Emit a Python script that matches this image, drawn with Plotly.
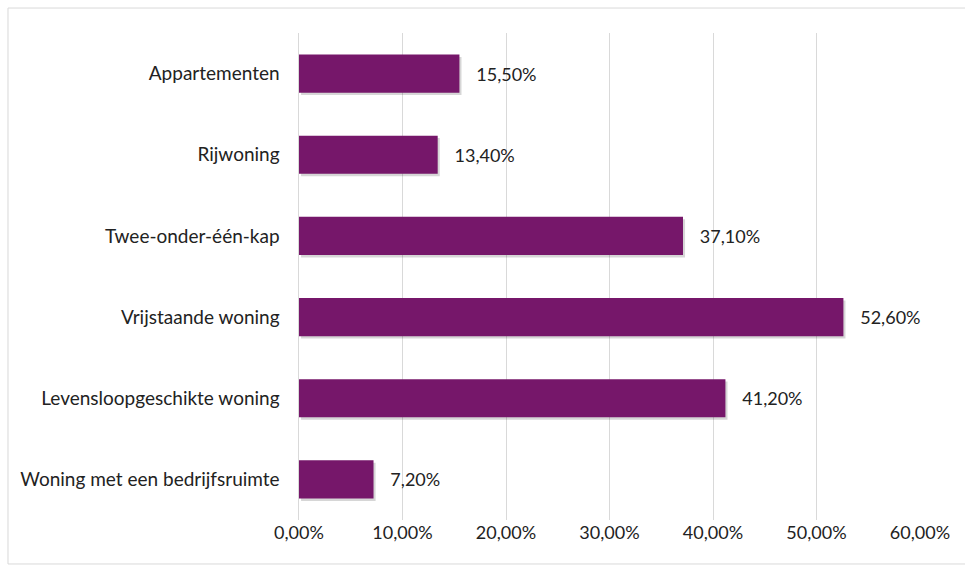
import plotly.graph_objects as go

# Woonwensen: voorkeur voor type woning
categories = [
    "Appartementen",
    "Rijwoning",
    "Twee-onder-één-kap",
    "Vrijstaande woning",
    "Levensloopgeschikte woning",
    "Woning met een bedrijfsruimte",
]
shares = [0.155, 0.134, 0.371, 0.526, 0.412, 0.072]
tick_values = [0.0, 0.1, 0.2, 0.3, 0.4, 0.5, 0.6]

bar_color = "#76176A"
grid_color = "#D9D9D9"
text_color = "#222222"
font_family = "Lato, Calibri, Carlito, sans-serif"
bar_width = 0.47

fig = go.Figure()

# soft drop shadow under each bar
fig.add_trace(
    go.Bar(
        x=shares,
        y=categories,
        orientation="h",
        base=0.002,
        width=bar_width,
        offset=-bar_width / 2 + 0.03,
        marker=dict(color="rgba(0,0,0,0.16)", line=dict(width=0)),
        hoverinfo="skip",
    )
)

fig.add_trace(
    go.Bar(
        x=shares,
        y=categories,
        orientation="h",
        marker=dict(color=bar_color, line=dict(width=0)),
        width=bar_width,
        texttemplate="   %{x:.2%}",
        textposition="outside",
        cliponaxis=False,
        textfont=dict(size=18, color=text_color, family=font_family),
        hoverinfo="skip",
    )
)

fig.update_layout(
    width=965,
    height=567,
    margin=dict(l=299, r=45, t=33, b=47),
    paper_bgcolor="white",
    plot_bgcolor="white",
    barmode="overlay",
    separators=",.",
    showlegend=False,
    font=dict(family=font_family, size=18, color=text_color),
    xaxis=dict(
        range=[0, 0.6],
        tickvals=tick_values,
        tickformat=".2%",
        showgrid=True,
        gridcolor=grid_color,
        gridwidth=1,
        zeroline=False,
        showline=False,
        ticks="",
        tickfont=dict(size=18, color=text_color),
        fixedrange=True,
    ),
    yaxis=dict(
        autorange="reversed",
        showgrid=False,
        zeroline=False,
        showline=True,
        linecolor=grid_color,
        linewidth=1,
        ticks="",
        ticksuffix="   ",
        tickfont=dict(size=19, color=text_color),
        fixedrange=True,
    ),
    shapes=[
        # light frame around the chart area
        dict(
            type="rect",
            xref="paper",
            yref="paper",
            x0=-0.4686,
            x1=1.2,
            y0=-0.0903,
            y1=1.0513,
            line=dict(color=grid_color, width=1),
            fillcolor="rgba(0,0,0,0)",
            layer="below",
        )
    ],
)

fig.write_html("out.html")
